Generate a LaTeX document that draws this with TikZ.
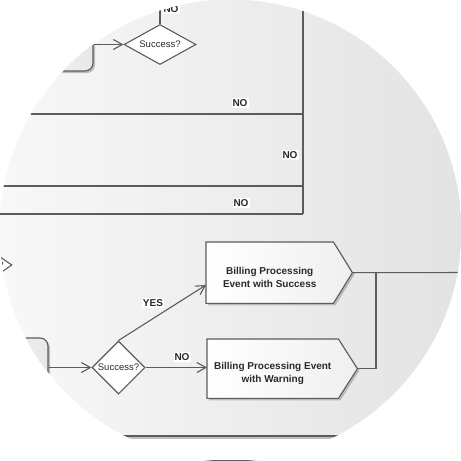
\documentclass[tikz,border=0pt]{standalone}
\usepackage{fontspec}
\setmainfont{Liberation Sans}
\usetikzlibrary{arrows.meta,shapes.geometric,shadows,calc}
\definecolor{ln}{HTML}{5C5C5C}
\definecolor{txt}{HTML}{2A2A2A}
\definecolor{bgl}{HTML}{F8F8F8}
\definecolor{bgr}{HTML}{E3E3E3}
\begin{document}
\begin{tikzpicture}[x=1pt,y=-1pt,
  conn/.style={draw=ln, line width=1.1pt},
  arr/.style={conn, -{Straight Barb[length=9pt,width=10pt,line width=1.1pt]}},
  decision/.style={diamond, draw=ln, line width=1.1pt, fill=white, inner sep=0pt,
    font=\fontsize{9.5}{11}\selectfont, text=txt},
  activity/.style={rectangle, rounded corners=8pt, draw=ln, line width=1.1pt,
    left color=white, right color=gray!18,
    drop shadow={shadow xshift=2pt, shadow yshift=-2pt, fill=black!40, opacity=.6}},
  frame/.style={rectangle, draw=none, inner sep=0pt},
  eventshape/.style={draw=ln, line width=1.1pt, left color=white, right color=gray!12,
    drop shadow={shadow xshift=2pt, shadow yshift=-2pt, fill=black!40, opacity=.6}},
  boxtxt/.style={align=center, font=\bfseries\fontsize{10}{13}\selectfont, text=txt, inner sep=0pt},
  lbl/.style={fill=white, inner sep=1pt, font=\bfseries\fontsize{10}{12}\selectfont, text=txt}]
\useasboundingbox (0,0) rectangle (461,461);
\fill[white] (0,0) rectangle (461,461);
\begin{scope}
  \clip (230.5,230.5) circle (231pt);
  \begin{scope}
    \clip (0,0) rectangle (461,437);
    \shade[left color=bgl, right color=bgr] (0,0) rectangle (461,437);
  \end{scope}

  % ---------- upper part ----------
  \node[activity, minimum width=123pt, minimum height=81pt] (act1) at (31.5,30.5) {};
  \node[decision, minimum width=72pt, minimum height=40pt] (d1) at (160,44.5) {\makebox[0pt][c]{Success?}};
  \draw[arr] (act1.east |- d1.west) -- (d1.west);
  \coordinate (n1) at (160,-12);
  \draw[conn] (d1.north) -- (n1);
  \node[lbl] (l0) at (171,9) {NO};

  \coordinate (vtop) at (303,-12);
  \coordinate (v1) at (303,114);
  \coordinate (v2) at (303,186);
  \coordinate (v3) at (303,214);
  \coordinate (h1) at (-12,114);
  \coordinate (h2) at (-12,186);
  \coordinate (h3) at (-12,214);
  \draw[conn] (vtop) -- (v3);
  \draw[conn] (h1) -- (v1);
  \draw[conn] (h2) -- (v2);
  \draw[conn] (h3) -- (v3);
  \node[lbl] (l1) at (240,103) {NO};
  \node[lbl] (l2) at (290,155) {NO};
  \node[lbl] (l3) at (241,203) {NO};

  % ---------- lower part ----------
  \node[decision, minimum width=58pt, minimum height=40pt] (d0) at (-17,265) {\makebox[0pt][c]{Success?}};

  \node[activity, minimum width=108pt, minimum height=58pt] (act2) at (-6,367) {};
  \node[decision, minimum width=53pt, minimum height=53pt] (d2) at (118.5,367.5) {\makebox[0pt][c]{Success?}};

  % Success event
  \node[frame, minimum width=127pt, minimum height=61pt, anchor=north west] (s1) at (206,242) {};
  \path[eventshape] (s1.north west) -- (s1.north east) -- ($(s1.east)+(19,0)$) coordinate (s1tip)
     -- (s1.south east) -- (s1.south west) -- cycle;
  \node[boxtxt] (s1t) at ($(s1.center)+(0,4.5)$) {Billing Processing\\Event with Success};

  % Warning event
  \node[frame, minimum width=131pt, minimum height=59pt, anchor=north west] (s2) at (207,339) {};
  \path[eventshape] (s2.north west) -- (s2.north east) -- ($(s2.east)+(19,0)$) coordinate (s2tip)
     -- (s2.south east) -- (s2.south west) -- cycle;
  \node[boxtxt] (s2t) at ($(s2.center)+(0,4.5)$) {Billing Processing Event\\with Warning};

  \draw[arr] (act2.east |- d2.west) -- (d2.west);
  \draw[arr] (d2.north) -- ($(s1.north west)!0.7!(s1.south west)$);
  \draw[arr] (d2.east) -- (d2.east -| s2.west);
  \node[lbl] (ly) at (153,303) {YES};
  \node[lbl] (ln) at (182,357) {NO};

  \coordinate (jn) at (376,272.5);
  \coordinate (rend) at (475,272.5);
  \draw[conn] (s1tip) -- (rend);
  \draw[conn] (s2tip) -| (jn);

  % bottom edge
  \draw[black!25, line width=1.6pt] (0,438.2) -- (461,438.2);
  \draw[draw=ln, line width=1.2pt] (0,436) -- (461,436);
  \draw[draw=ln, line width=1.6pt] (150,461) -- (310,461);
\end{scope}
\end{tikzpicture}
\end{document}
